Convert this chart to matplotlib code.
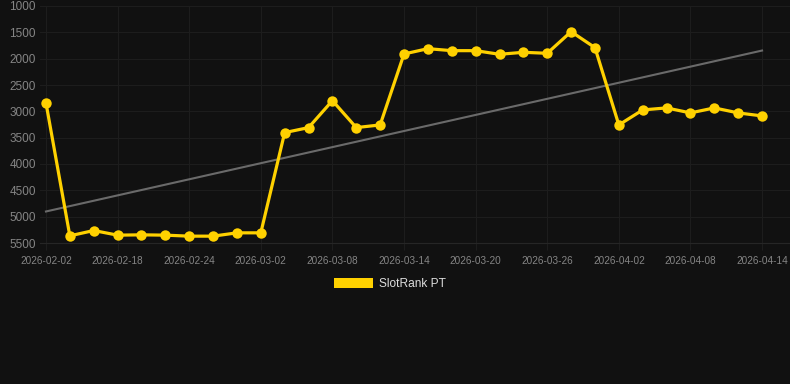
import numpy as np
import matplotlib
matplotlib.use("Agg")
import matplotlib.pyplot as plt
from matplotlib.patches import Patch

# ── Data ──────────────────────────────────────────────────────────────────────
DATES = [
    "2026-02-02", "2026-02-14", "2026-02-16", "2026-02-18", "2026-02-20",
    "2026-02-22", "2026-02-24", "2026-02-26", "2026-02-28", "2026-03-02",
    "2026-03-04", "2026-03-06", "2026-03-08", "2026-03-10", "2026-03-12",
    "2026-03-14", "2026-03-16", "2026-03-18", "2026-03-20", "2026-03-22",
    "2026-03-24", "2026-03-26", "2026-03-28", "2026-03-30", "2026-04-02",
    "2026-04-04", "2026-04-06", "2026-04-08", "2026-04-10", "2026-04-12",
    "2026-04-14",
]
RANKS = [
    2840, 5364, 5263, 5351, 5345, 5351, 5370, 5370, 5307, 5307,
    3404, 3309, 2797, 3309, 3258, 1911, 1810, 1848, 1848, 1917,
    1879, 1898, 1487, 1791, 3258, 2973, 2935, 3030, 2935, 3030,
    3087,
]
Y_TICKS = [1000, 1500, 2000, 2500, 3000, 3500, 4000, 4500, 5000, 5500]
SERIES_NAME = "SlotRank PT"

# ── Style ─────────────────────────────────────────────────────────────────────
BG        = "#111111"
GRID      = "#1d1d1d"
TICK_CLR  = "#858585"
LINE_CLR  = "#FFD100"
TREND_CLR = "#6a6a6a"

plt.rcParams["font.family"] = ["Liberation Sans", "DejaVu Sans"]

fig = plt.figure(figsize=(7.9, 3.84), dpi=100, facecolor=BG)
ax = fig.add_axes([40 / 790, (384 - 243) / 384, 750 / 790, 237 / 384])
ax.set_facecolor(BG)

x = np.arange(len(RANKS))
y = np.array(RANKS, dtype=float)

# linear trend over the series
slope, intercept = np.polyfit(x, y, 1)
ax.plot(x, slope * x + intercept, color=TREND_CLR, linewidth=1.5, zorder=2)

ax.plot(x, y, color=LINE_CLR, linewidth=2.3, marker="o", markersize=7.5,
        markeredgewidth=0, zorder=3)

ax.set_ylim(5500, 1000)
ax.set_xlim(-0.25, 31.17)
ax.set_yticks(Y_TICKS)
ax.set_xticks(x[::3])
ax.set_xticklabels(DATES[::3])

ax.grid(True, color=GRID, linewidth=0.75)
ax.set_axisbelow(True)
for side in ["top", "right", "left"]:
    ax.spines[side].set_visible(False)
ax.spines["bottom"].set_color("#262626")

ax.tick_params(axis="x", colors=TICK_CLR, labelsize=7.2, length=5,
               color=GRID, pad=4)
ax.tick_params(axis="y", colors=TICK_CLR, labelsize=8.5, length=0, pad=3)

handle = Patch(facecolor=LINE_CLR, edgecolor="none")
fig.legend([handle], [SERIES_NAME], loc="center",
           bbox_to_anchor=(390 / 790, 1 - 284 / 384), frameon=False,
           fontsize=8.6, labelcolor="#dddddd", handlelength=3.3,
           handleheight=1.0, handletextpad=0.5)

fig.savefig("out.png", dpi=100, facecolor=BG)
